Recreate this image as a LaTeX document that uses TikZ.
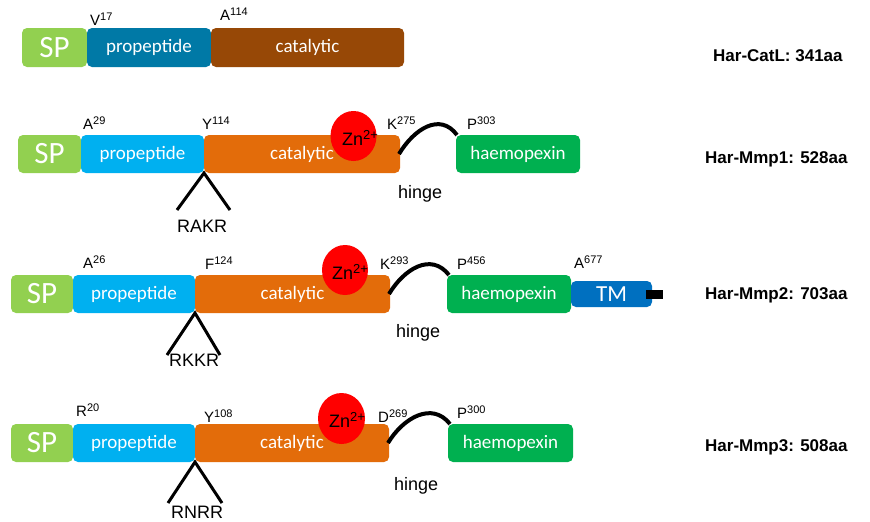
\documentclass[tikz,border=0pt]{standalone}
\usepackage{fontspec}
\setmainfont{Liberation Sans}
\newfontfamily\boxfont{Carlito}
\usetikzlibrary{shapes.geometric}

\definecolor{spgreen}{HTML}{92D050}
\definecolor{propdark}{HTML}{0079A6}
\definecolor{catbrown}{HTML}{974806}
\definecolor{propblue}{HTML}{00B0F0}
\definecolor{catorange}{HTML}{E36C0A}
\definecolor{hxgreen}{HTML}{00B050}
\definecolor{tmblue}{HTML}{0070C0}

% residue label: letter with a superscript position number
\newcommand\resid[2]{#1\raisebox{5pt}{\fontsize{11}{11}\selectfont #2}}
% zinc ion label
\newcommand\zinclabel{Zn\raisebox{6pt}{\fontsize{13}{13}\selectfont 2+}}

\tikzset{
  dom/.style={rounded corners=5pt, anchor=north west, minimum height=38pt,
    inner sep=0pt, outer sep=0pt, text=white,
    font=\boxfont\fontsize{19}{19}\selectfont},
  spbox/.style={dom, fill=spgreen, font=\boxfont\fontsize{31}{31}\selectfont},
  res/.style={anchor=base west, inner sep=0pt, font=\fontsize{15}{15}\selectfont},
  zlab/.style={anchor=base west, inner sep=0pt, font=\fontsize{18}{18}\selectfont},
  plain/.style={anchor=base west, inner sep=0pt, font=\fontsize{18}{18}\selectfont},
  title/.style={anchor=base west, inner sep=0pt, font=\bfseries\fontsize{17}{17}\selectfont},
  zinc/.style={ellipse, fill=red, inner sep=0pt},
  hinge/.style={line width=4pt},
  cleave/.style={line width=3pt},
}

\begin{document}
\begin{tikzpicture}[x=1pt, y=-1pt]
\fill[white] (0,0) rectangle (870,522);
\useasboundingbox (0,0) rectangle (870,522);

% ---------- Har-CatL ----------
\node[spbox, minimum width=65pt, minimum height=39pt] (sp0) at (22,28) {SP};
\node[dom, fill=propdark, minimum width=124pt, minimum height=39pt] (prop0) at (87,28) {propeptide};
\node[dom, fill=catbrown, minimum width=193pt, minimum height=39pt] (cat0) at (211,28) {catalytic};
\node[res] (r0a) at (90,25) {\resid{V}{17}};
\node[res] (r0b) at (220,20) {\resid{A}{114}};
\node[title] (t0) at (713,61) {Har-CatL: 341aa};

% ---------- Har-Mmp1 ----------
\node[spbox, minimum width=63pt] (sp1) at (18,135) {SP};
\node[dom, fill=propblue, minimum width=123pt] (prop1) at (81,135) {propeptide};
\node[dom, fill=catorange, minimum width=196pt] (cat1) at (204,135) {catalytic};
\node[dom, fill=hxgreen, minimum width=124pt] (hx1) at (456,135) {haemopexin};
\node[zinc, minimum width=46pt, minimum height=50pt] (zn1) at (353.5,136) {};
\node[zlab] (zt1) at (342,145) {\zinclabel};
\node[res] (r1a) at (83,129) {\resid{A}{29}};
\node[res] (r1b) at (202,129) {\resid{Y}{114}};
\node[res] (r1c) at (387,129) {\resid{K}{275}};
\node[res] (r1d) at (467,129) {\resid{P}{303}};
\draw[hinge] ([xshift=-1pt]cat1.east)
  .. controls ([shift={(14,-25)}]cat1.east) and ([shift={(-16,-23)}]hx1.north west)
  .. ([xshift=1pt]hx1.north west);
\coordinate (c1l) at (177,210);
\coordinate (c1r) at (230,210);
\draw[cleave] (c1l) -- (prop1.south east) -- (c1r);
\node[plain] (k1) at (177,232) {RAKR};
\node[plain] (h1) at (398,198) {hinge};
\node[title] (t1) at (705,163) {Har-Mmp1: 528aa};

% ---------- Har-Mmp2 ----------
\node[spbox, minimum width=62pt] (sp2) at (11,275) {SP};
\node[dom, fill=propblue, minimum width=122pt] (prop2) at (73,275) {propeptide};
\node[dom, fill=catorange, minimum width=195pt] (cat2) at (195,275) {catalytic};
\node[dom, fill=hxgreen, minimum width=124pt] (hx2) at (447,275) {haemopexin};
\node[dom, fill=tmblue, minimum width=81pt, minimum height=26pt,
  font=\boxfont\fontsize{23}{23}\selectfont] (tm2) at (571,281) {TM};
\node[fill=black, inner sep=0pt, minimum width=17pt, minimum height=9pt,
  anchor=west] (tail2) at ([xshift=-6pt]tm2.east) {};
\node[zinc, minimum width=46pt, minimum height=50pt] (zn2) at (345,270) {};
\node[zlab] (zt2) at (332,279) {\zinclabel};
\node[res] (r2a) at (83,268) {\resid{A}{26}};
\node[res] (r2b) at (205,269) {\resid{F}{124}};
\node[res] (r2c) at (380,269) {\resid{K}{293}};
\node[res] (r2d) at (457,269) {\resid{P}{456}};
\node[res] (r2e) at (574,268) {\resid{A}{677}};
\draw[hinge] ([xshift=-1pt]cat2.east)
  .. controls ([shift={(14,-25)}]cat2.east) and ([shift={(-16,-23)}]hx2.north west)
  .. ([xshift=2pt]hx2.north west);
\coordinate (c2l) at (167,355);
\coordinate (c2r) at (220,355);
\draw[cleave] (c2l) -- (prop2.south east) -- (c2r);
\node[plain] (k2) at (169,366) {RKKR};
\node[plain] (h2) at (396,337) {hinge};
\node[title] (t2) at (705,299) {Har-Mmp2: 703aa};

% ---------- Har-Mmp3 ----------
\node[spbox, minimum width=62pt] (sp3) at (11,424) {SP};
\node[dom, fill=propblue, minimum width=122pt] (prop3) at (73,424) {propeptide};
\node[dom, fill=catorange, minimum width=194pt] (cat3) at (195,424) {catalytic};
\node[dom, fill=hxgreen, minimum width=125pt] (hx3) at (448,424) {haemopexin};
\node[zinc, minimum width=47pt, minimum height=51pt] (zn3) at (341.5,418.5) {};
\node[zlab] (zt3) at (329,427) {\zinclabel};
\node[res] (r3a) at (76,416) {\resid{R}{20}};
\node[res] (r3b) at (204,422) {\resid{Y}{108}};
\node[res] (r3c) at (378,422) {\resid{D}{269}};
\node[res] (r3d) at (457,418) {\resid{P}{300}};
\draw[hinge] ([xshift=-1pt]cat3.east)
  .. controls ([shift={(14,-25)}]cat3.east) and ([shift={(-16,-23)}]hx3.north west)
  .. ([xshift=2pt]hx3.north west);
\coordinate (c3l) at (168,503);
\coordinate (c3r) at (222,503);
\draw[cleave] (c3l) -- (prop3.south east) -- (c3r);
\node[plain] (k3) at (171,518) {RNRR};
\node[plain] (h3) at (394,490) {hinge};
\node[title] (t3) at (705,451) {Har-Mmp3: 508aa};
\end{tikzpicture}
\end{document}
